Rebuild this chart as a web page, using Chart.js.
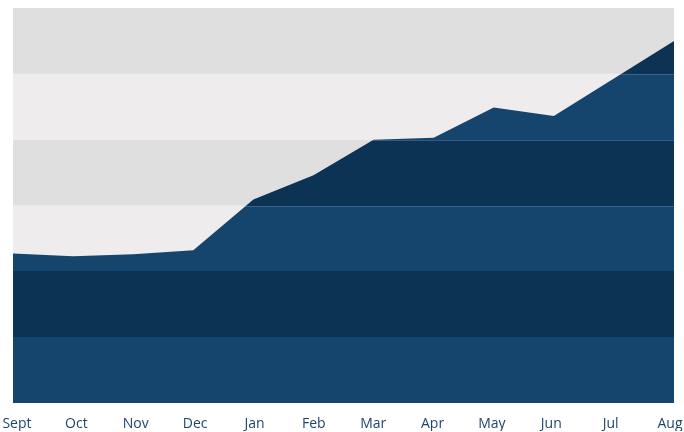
<!DOCTYPE html>
<html>
<head>
<meta charset="utf-8">
<script src="https://cdn.jsdelivr.net/npm/chart.js@4/dist/chart.umd.min.js"></script>
<style>
  html, body { margin: 0; padding: 0; background: #ffffff; }
  #wrap { width: 684px; height: 432px; position: relative; }
</style>
</head>
<body>
<div id="wrap"><canvas id="c" width="684" height="432"></canvas></div>
<script>
const months = ['Sept', 'Oct', 'Nov', 'Dec', 'Jan', 'Feb', 'Mar', 'Apr', 'May', 'Jun', 'Jul', 'Aug'];
const values = [2.27, 2.23, 2.26, 2.32, 3.09, 3.46, 4.00, 4.03, 4.49, 4.36, 4.93, 5.50];
const bandLevels = [0, 1, 2, 3, 4, 5, 6];
const bgBandColors = ['#eeeced', '#e0dfe0'];   // alternating light backgrounds
const fillBandColors = ['#15456d', '#0c3254']; // alternating navy fills

function fillGradient(ctx) {
  const chart = ctx.chart;
  const area = chart.chartArea;
  const y = chart.scales.y;
  if (!area || !y) return fillBandColors[0];
  const g = chart.ctx.createLinearGradient(0, area.bottom, 0, area.top);
  const h = area.bottom - area.top;
  const clamp = v => Math.max(0, Math.min(1, v));
  for (let i = 0; i < bandLevels.length - 1; i++) {
    const c = fillBandColors[i % 2];
    const p0 = clamp((area.bottom - y.getPixelForValue(bandLevels[i])) / h);
    const p1 = clamp((area.bottom - y.getPixelForValue(bandLevels[i + 1])) / h);
    g.addColorStop(p0, c);
    g.addColorStop(Math.max(p0, p1 - 0.00001), c);
  }
  return g;
}

const bandsPlugin = {
  id: 'bands',
  beforeDatasetsDraw(chart) {
    const { ctx, chartArea: a, scales: { y } } = chart;
    ctx.save();
    for (let i = 0; i < bandLevels.length - 1; i++) {
      const top = y.getPixelForValue(bandLevels[i + 1]);
      const bot = y.getPixelForValue(bandLevels[i]);
      ctx.fillStyle = bgBandColors[i % 2];
      ctx.fillRect(a.left, top, a.right - a.left, bot - top);
    }
    ctx.restore();
  },
  afterDatasetsDraw(chart) {
    const { ctx, chartArea: a, scales: { y } } = chart;
    const pts = chart.getDatasetMeta(0).data;
    ctx.save();
    ctx.beginPath();
    ctx.moveTo(pts[0].x, a.bottom);
    pts.forEach(p => ctx.lineTo(p.x, p.y));
    ctx.lineTo(pts[pts.length - 1].x, a.bottom);
    ctx.closePath();
    ctx.clip();
    ctx.strokeStyle = 'rgba(110,150,195,0.4)';
    ctx.lineWidth = 1;
    [3, 4, 5].forEach(v => {
      const py = Math.round(y.getPixelForValue(v)) + 0.5;
      ctx.beginPath();
      ctx.moveTo(a.left, py);
      ctx.lineTo(a.right, py);
      ctx.stroke();
    });
    ctx.restore();
  }
};

new Chart(document.getElementById('c'), {
  type: 'line',
  data: {
    labels: months,
    datasets: [{
      data: values,
      fill: 'start',
      backgroundColor: fillGradient,
      borderWidth: 0,
      borderColor: 'rgba(0,0,0,0)',
      pointRadius: 0,
      tension: 0
    }]
  },
  options: {
    responsive: false,
    animation: false,
    layout: { padding: { left: 13, right: 10, top: 8, bottom: 1 } },
    plugins: { legend: { display: false }, tooltip: { enabled: false } },
    scales: {
      x: { display: false, offset: false },
      x2: {
        type: 'linear',
        position: 'bottom',
        min: -0.067,
        max: 11.067,
        afterBuildTicks: axis => { axis.ticks = months.map((_, i) => ({ value: i })); },
        afterFit: axis => { axis.paddingLeft = 0; axis.paddingRight = 0; axis.height = 28; },
        grid: { display: false, drawTicks: false },
        border: { display: false },
        ticks: {
          autoSkip: false,
          maxRotation: 0,
          padding: 13,
          color: '#1e456f',
          font: { family: 'Open Sans', size: 14 },
          callback: v => months[v] ?? ''
        }
      },
      y: { display: false, min: 0, max: 6 }
    }
  },
  plugins: [bandsPlugin]
});
</script>
</body>
</html>
